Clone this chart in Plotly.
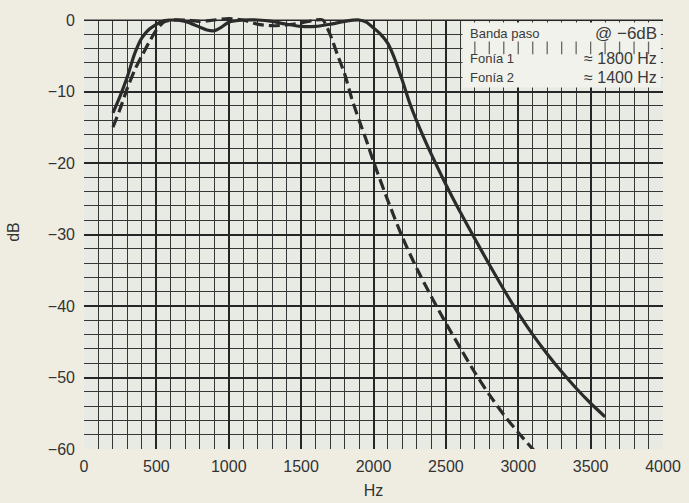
import plotly.graph_objects as go

# ---- data ----
fonia1_hz = [200, 250, 300, 350, 400, 450, 500, 550, 600, 700, 800, 850, 900, 950,
             1000, 1100, 1200, 1300, 1400, 1500, 1600, 1700, 1800, 1900, 1950, 2000,
             2050, 2100, 2150, 2200, 2250, 2300, 2400, 2500, 2600, 2700, 2800, 2900,
             3000, 3100, 3200, 3300, 3400, 3500, 3600]
fonia1_db = [-13.0, -10.6, -7.9, -4.7, -2.5, -1.3, -0.6, -0.1, 0.0, -0.2, -1.0, -1.4, -1.5, -1.0,
             -0.3, 0.0, 0.0, -0.2, -0.6, -0.9, -0.9, -0.6, -0.2, 0.0, -0.3, -1.1,
             -2.0, -3.3, -5.6, -8.5, -11.6, -14.2, -18.8, -23.0, -26.9, -30.6, -34.2, -37.7,
             -41.0, -44.0, -46.7, -49.2, -51.5, -53.6, -55.5]

fonia2_hz = [200, 250, 300, 350, 400, 450, 500, 550, 600, 700, 800, 900, 1000, 1100,
             1200, 1300, 1400, 1500, 1600, 1650, 1700, 1750, 1800, 1850, 1900, 1950,
             2000, 2100, 2200, 2300, 2400, 2500, 2600, 2700, 2800, 2900, 3000, 3100, 3130]
fonia2_db = [-15.0, -12.4, -9.5, -7.0, -5.0, -3.1, -1.4, -0.3, 0.0, 0.0, -0.2, 0.0, 0.2, 0.0,
             -0.6, -0.8, -0.7, -0.4, 0.0, 0.0, -2.0, -4.8, -7.5, -11.0, -14.0, -16.8,
             -19.8, -25.3, -30.4, -34.8, -38.7, -42.4, -45.9, -49.3, -52.4, -55.2, -57.7, -60.0, -60.6]

x_ticks = [0, 500, 1000, 1500, 2000, 2500, 3000, 3500, 4000]
y_ticks = [0, -10, -20, -30, -40, -50, -60]
box_stub_hz = list(range(2700, 4000, 100))

PAGE = "#efede1"
PLOT = "#e8ebe3"
BOX = "#f2f2ec"
INK = "#2b2b2b"
FONT = "Liberation Sans, Arial, sans-serif"

fig = go.Figure()

fig.add_trace(go.Scatter(x=fonia1_hz, y=fonia1_db, mode="lines",
                         line=dict(color=INK, width=3.2, shape="spline", smoothing=0.6),
                         name="Fonía 1", showlegend=False))
fig.add_trace(go.Scatter(x=fonia2_hz, y=fonia2_db, mode="lines",
                         line=dict(color=INK, width=3.2, dash="11px,5px", shape="spline", smoothing=0.6),
                         name="Fonía 2", showlegend=False))

# tick stubs row inside the info box
fig.add_trace(go.Scatter(x=box_stub_hz, y=[-3.9] * len(box_stub_hz), mode="markers",
                         marker=dict(symbol="line-ns", size=9, line=dict(color="#666", width=1.3)),
                         showlegend=False, hoverinfo="skip"))

# strip above 0 dB with page colour (lets curves ride over the top border)
fig.add_shape(type="rect", xref="x", yref="y", x0=-10, x1=4010, y0=0.08, y1=0.7,
              fillcolor=PAGE, line_width=0, layer="between")
# info box
fig.add_shape(type="rect", xref="x", yref="y", x0=2615, x1=3985, y0=-0.35, y1=-9.45,
              fillcolor=BOX, line_width=0, layer="between")

ann = [
    dict(x=2650, y=-1.95, text="Banda paso", xanchor="left", size=13),
    dict(x=3975, y=-1.95, text="@ −6dB", xanchor="right", size=17),
    dict(x=2650, y=-5.4, text="Fonía 1", xanchor="left", size=13),
    dict(x=3975, y=-5.4, text="≈ 1800 Hz", xanchor="right", size=16),
    dict(x=2650, y=-8.1, text="Fonía 2", xanchor="left", size=13),
    dict(x=3975, y=-8.1, text="≈ 1400 Hz", xanchor="right", size=16),
]
for a in ann:
    fig.add_annotation(x=a["x"], y=a["y"], xref="x", yref="y", text=a["text"],
                       xanchor=a["xanchor"], yanchor="middle", showarrow=False,
                       font=dict(family=FONT, size=a["size"], color="#3a3a3a"))

fig.update_layout(
    width=689, height=503,
    margin=dict(l=84, r=26, t=15, b=54),
    paper_bgcolor=PAGE, plot_bgcolor=PLOT,
    font=dict(family=FONT, size=15, color="#333"),
    showlegend=False,
)
fig.update_xaxes(range=[0, 4000], tickvals=x_ticks, ticktext=[str(v) for v in x_ticks],
                 automargin=False,
                 showgrid=True, gridcolor="#262626", gridwidth=2,
                 minor=dict(dtick=100, tick0=0, showgrid=True, gridcolor="#363636", gridwidth=1.3),
                 zeroline=False, showline=False, ticks="", ticklabelstandoff=6,
                 title=dict(text="Hz", font=dict(size=16), standoff=10),
                 tickfont=dict(size=16))
fig.update_yaxes(range=[-60, 0.7], tickvals=y_ticks,
                 ticktext=[("−" + str(-v)) if v < 0 else "0" for v in y_ticks],
                 automargin=False,
                 showgrid=True, gridcolor="#262626", gridwidth=2,
                 minor=dict(dtick=2, tick0=0, showgrid=True, gridcolor="#363636", gridwidth=1.3),
                 zeroline=False, showline=False, ticks="", ticklabelstandoff=8,
                 title=dict(text="dB", font=dict(size=16), standoff=24),
                 tickfont=dict(size=16))

fig.write_html("out.html", config={"displayModeBar": False},
               post_script="document.body.style.margin='0';document.body.style.background='%s';" % PAGE)
